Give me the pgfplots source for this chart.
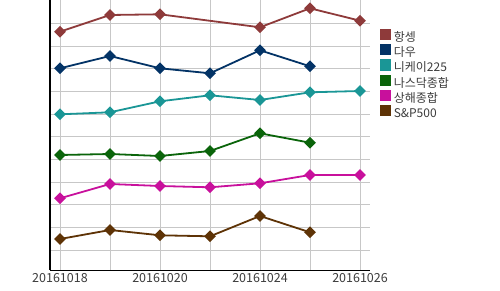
\documentclass[border=0pt]{standalone}
\usepackage{fontspec}
\setmainfont{Noto Sans CJK KR}
\usepackage{pgfplots}
\pgfplotsset{compat=1.18}
\definecolor{hs}{HTML}{8E3A3A}
\definecolor{dow}{HTML}{033366}
\definecolor{nk}{HTML}{1A9696}
\definecolor{nq}{HTML}{0A640A}
\definecolor{sh}{HTML}{C8109C}
\definecolor{sp}{HTML}{5E3306}
\definecolor{txt}{HTML}{3C3C3C}
\begin{document}
\begin{tikzpicture}[x=1pt,y=1pt]
\useasboundingbox (0,0) rectangle (500,290);
\begin{axis}[
  at={(50pt,20pt)}, anchor=south west,
  scale only axis, width=320pt, height=270pt,
  xmin=-0.2, xmax=6.2, ymin=0, ymax=270,
  axis x line=bottom, axis y line=left,
  axis line style={black, line width=1pt, -},
  xtick={0,...,6},
  xticklabels={20161018,,20161020,,20161024,,20161026},
  ytick={20,42.67,65.33,88,110.67,133.33,156,178.67,201.33,224,246.67},
  yticklabels={},
  major tick length=0pt,
  grid=major,
  grid style={color=black!22, line width=0.8pt},
  /pgf/number format/assume math mode=true,
  xticklabel style={font=\fontsize{12.5}{13}\selectfont, text=txt, yshift=0pt},
  clip=false,
  legend style={at={(axis description cs:1.031,0.894)}, anchor=north west, draw=none, fill=none,
    font=\fontsize{12}{13}\selectfont, text=txt, row sep=0.7pt, inner sep=0pt,
    nodes={inner ysep=0pt, inner xsep=2.5pt, text height=8.5pt, text depth=2pt}},
  legend cell align=left,
  legend image code/.code={\fill[#1] (0pt,-1pt) rectangle (9.4pt,8.4pt);},
  every axis plot/.append style={line width=1.8pt, mark=square*, mark size=3.3pt, mark options={rotate=45, solid}},
]
\addplot[color=hs] coordinates {(0,238.3) (1,255) (2,255.7) (4,242.7) (5,261.7) (6,249.3)};
\addplot[color=dow] coordinates {(0,201.7) (1,214) (2,201.7) (3,196.7) (4,219.7) (5,203.7)};
\addplot[color=nk] coordinates {(0,155.7) (1,157.7) (2,168.7) (3,174.7) (4,170) (5,177.7) (6,179)};
\addplot[color=nq] coordinates {(0,115) (1,116) (2,114) (3,119) (4,136.7) (5,127.3)};
\addplot[color=sh] coordinates {(0,71.7) (1,86) (2,84) (3,82.7) (4,86.7) (5,95) (6,95)};
\addplot[color=sp] coordinates {(0,31) (1,40) (2,34.7) (3,33.7) (4,54) (5,37.7)};
\legend{항셍,다우,니케이225,나스닥종합,상해종합,S\&P500}
\end{axis}
\end{tikzpicture}
\end{document}
